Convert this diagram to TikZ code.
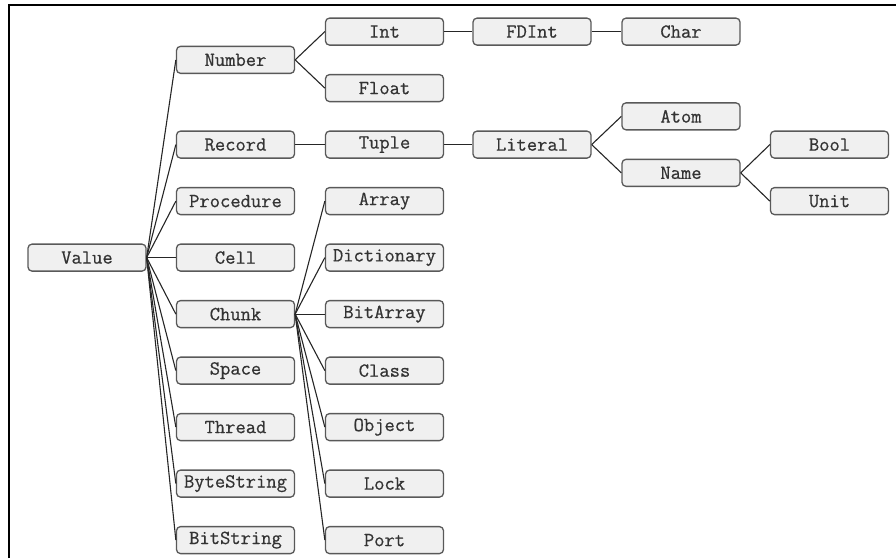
\documentclass[tikz,border=0pt]{standalone}
\usepackage{fontspec}
\newfontfamily\boxfont{Latin Modern Mono}[FakeBold=0.6]
\begin{document}
\begin{tikzpicture}[x=1pt,y=-1pt,
  typebox/.style={draw=black!65, fill=black!6, rounded corners=4pt, line width=1.3pt,
    minimum width=118pt, minimum height=27pt, inner sep=0pt,
    font=\boxfont\fontsize{20}{20}\selectfont, text=black!80},
  link/.style={draw=black!85, line width=1.1pt},
  frameline/.style={draw=black, line width=2.2pt}]
\useasboundingbox (0,0) rectangle (896,558);
% frame on the top and left sides
\draw[frameline] (9,558) -- (9,5) -- (896,5);

% column x positions and half-row step
\def\cA{87}\def\cB{235.5}\def\cC{384.5}\def\cD{532}\def\cE{681}\def\cF{829.5}
\def\rowy#1{\fpeval{31.6+28.25*#1}}

% root
\node[typebox] (value) at (\cA,{\rowy{8}}) {Value};

% first level
\node[typebox] (number)    at (\cB,{\rowy{1}})  {Number};
\node[typebox] (record)    at (\cB,{\rowy{4}})  {Record};
\node[typebox] (procedure) at (\cB,{\rowy{6}})  {Procedure};
\node[typebox] (cell)      at (\cB,{\rowy{8}})  {Cell};
\node[typebox] (chunk)     at (\cB,{\rowy{10}}) {Chunk};
\node[typebox] (space)     at (\cB,{\rowy{12}}) {Space};
\node[typebox] (thread)    at (\cB,{\rowy{14}}) {Thread};
\node[typebox] (bytestr)   at (\cB,{\rowy{16}}) {ByteString};
\node[typebox] (bitstr)    at (\cB,{\rowy{18}}) {BitString};

% second level
\node[typebox] (int)      at (\cC,{\rowy{0}})  {Int};
\node[typebox] (float)    at (\cC,{\rowy{2}})  {Float};
\node[typebox] (tuple)    at (\cC,{\rowy{4}})  {Tuple};
\node[typebox] (array)    at (\cC,{\rowy{6}})  {Array};
\node[typebox] (dict)     at (\cC,{\rowy{8}})  {Dictionary};
\node[typebox] (bitarray) at (\cC,{\rowy{10}}) {BitArray};
\node[typebox] (class)    at (\cC,{\rowy{12}}) {Class};
\node[typebox] (object)   at (\cC,{\rowy{14}}) {Object};
\node[typebox] (lock)     at (\cC,{\rowy{16}}) {Lock};
\node[typebox] (port)     at (\cC,{\rowy{18}}) {Port};

% deeper levels
\node[typebox] (fdint)   at (\cD,{\rowy{0}}) {FDInt};
\node[typebox] (literal) at (\cD,{\rowy{4}}) {Literal};
\node[typebox] (char)    at (\cE,{\rowy{0}}) {Char};
\node[typebox] (atom)    at (\cE,{\rowy{3}}) {Atom};
\node[typebox] (name)    at (\cE,{\rowy{5}}) {Name};
\node[typebox] (bool)    at (\cF,{\rowy{4}}) {Bool};
\node[typebox] (unit)    at (\cF,{\rowy{6}}) {Unit};

% connectors
\foreach \c in {number,record,procedure,cell,chunk,space,thread,bytestr,bitstr}
  \draw[link] (value.east) -- (\c.west);
\foreach \c in {int,float}
  \draw[link] (number.east) -- (\c.west);
\draw[link] (int.east) -- (fdint.west);
\draw[link] (fdint.east) -- (char.west);
\draw[link] (record.east) -- (tuple.west);
\draw[link] (tuple.east) -- (literal.west);
\foreach \c in {atom,name}
  \draw[link] (literal.east) -- (\c.west);
\foreach \c in {bool,unit}
  \draw[link] (name.east) -- (\c.west);
\foreach \c in {array,dict,bitarray,class,object,lock,port}
  \draw[link] (chunk.east) -- (\c.west);
\end{tikzpicture}
\end{document}
